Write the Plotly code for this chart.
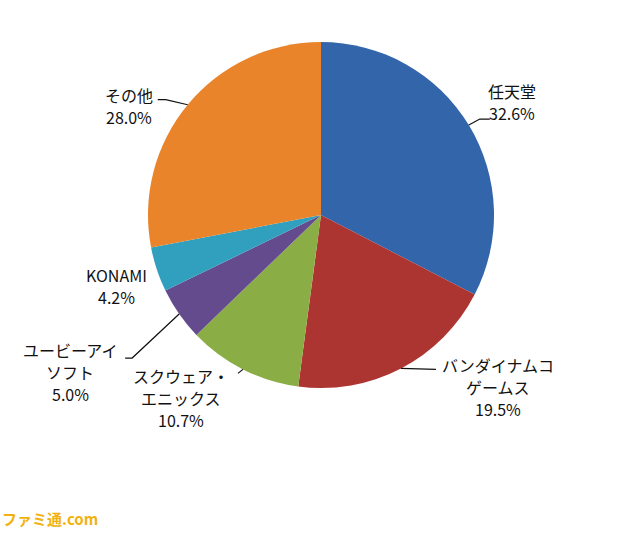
import math
import plotly.graph_objects as go

# ---- data ----
companies = ["任天堂", "バンダイナムコゲームス", "スクウェア・エニックス",
             "ユービーアイソフト", "KONAMI", "その他"]
label_lines = [["任天堂"], ["バンダイナムコ", "ゲームス"], ["スクウェア・", "エニックス"],
               ["ユービーアイ", "ソフト"], ["KONAMI"], ["その他"]]
shares = [32.6, 19.5, 10.7, 5.0, 4.2, 28.0]

# ---- style ----
colors = ["#3265AA", "#AC3532", "#8AAE45", "#634B8E", "#31A0BE", "#E9842A"]
W, H = 640, 534
CX, CY, R = 321, 215, 173
FONT = "Noto Sans CJK JP, Noto Sans, sans-serif"
LINE_GAP = 22
# label block centre offset (px) from slice-edge anchor, and leader polyline offsets
text_off = [(43, -23), (97, 19), (-62, 29), (-109, 58), (-40, 17), (-59, 1)]
leaders = [
    [(0, 0), (11, -6), (21, -6)],
    [(0, 0), (35, 1)],
    [(0, 0), (-5, 4)],
    [(0, 0), (-47, 44), (-54, 44)],
    None,
    [(0, 0), (-22, -5), (-30, -5)],
]

fig = go.Figure()
fig.add_trace(go.Pie(
    labels=companies, values=shares, sort=False, direction="clockwise",
    rotation=0, marker=dict(colors=colors, line=dict(width=0)),
    textinfo="none", hoverinfo="label+percent", showlegend=False,
    domain=dict(x=[(CX - R) / W, (CX + R) / W], y=[1 - (CY + R) / H, 1 - (CY - R) / H]),
))

total = sum(shares)
cum = 0.0
annotations = []
shapes = []
for i, (lines, v) in enumerate(zip(label_lines, shares)):
    mid = (cum + v / 2) / total * 2 * math.pi
    cum += v
    ax_px = CX + R * math.sin(mid)
    ay_px = CY - R * math.cos(mid)
    tx, ty = ax_px + text_off[i][0], ay_px + text_off[i][1]
    all_lines = lines + [f"{v:.1f}%"]
    n = len(all_lines)
    for k, line in enumerate(all_lines):
        ly = ty + (k - (n - 1) / 2) * LINE_GAP
        annotations.append(dict(
            x=tx / W, y=1 - ly / H, xref="paper", yref="paper",
            text=line, showarrow=False, align="center",
            xanchor="center", yanchor="middle",
            font=dict(family=FONT, size=16, color="#111111"),
        ))
    if leaders[i]:
        pts = [(ax_px + dx, ay_px + dy) for dx, dy in leaders[i]]
        path = "M " + " L ".join(f"{x / W:.5f},{1 - y / H:.5f}" for x, y in pts)
        shapes.append(dict(type="path", path=path, xref="paper", yref="paper",
                           line=dict(color="#111111", width=1.2)))

annotations.append(dict(
    x=0.0, y=0.005, xref="paper", yref="paper", xanchor="left", yanchor="bottom",
    text="<b>ファミ通.com</b>", showarrow=False,
    font=dict(family=FONT, size=15, color="#F2B20E"),
))

fig.update_layout(
    width=W, height=H, margin=dict(l=0, r=0, t=0, b=0),
    paper_bgcolor="white", plot_bgcolor="white",
    annotations=annotations, shapes=shapes,
)
fig.write_html("out.html", config={"displayModeBar": False},
               post_script="document.body.style.margin='0';")
